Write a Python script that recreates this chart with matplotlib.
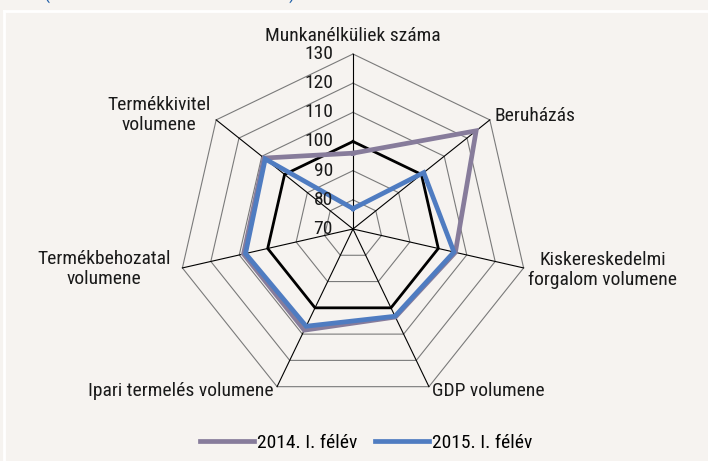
import numpy as np
import matplotlib
matplotlib.use("Agg")
import matplotlib.pyplot as plt
import logging
logging.getLogger("matplotlib.font_manager").setLevel(logging.ERROR)

plt.rcParams['font.family'] = ['Liberation Sans Narrow', 'Roboto Condensed',
                               'Archivo Narrow', 'DejaVu Sans']

categories = ["Munkanélküliek száma", "Beruházás", "Kiskereskedelmi\nforgalom volumene",
              "GDP volumene", "Ipari termelés volumene", "Termékbehozatal\nvolumene",
              "Termékkivitel\nvolumene"]
s2014 = [96, 124, 106, 103.5, 108.5, 108.5, 109]
s2015 = [77, 101, 105.5, 103.2, 107, 107.8, 108.5]
ref100 = [100] * 7
ticks = [70, 80, 90, 100, 110, 120, 130]
rmin, rmax = 70, 130

bg = "#F6F3F0"
W, H = 708, 461
cx, cy = 353, 229          # centre in pixels
scale = 175 / (rmax - rmin)  # px per unit

fig = plt.figure(figsize=(W / 100, H / 100), dpi=100, facecolor=bg)
aw, ah = 620, 420
ax = fig.add_axes([(cx - aw / 2) / W, (H - cy - ah / 2) / H, aw / W, ah / H])
ax.set_xlim(-aw / 2 / scale, aw / 2 / scale)
ax.set_ylim(-ah / 2 / scale, ah / 2 / scale)
ax.axis("off")
ax.set_facecolor(bg)

n = len(categories)
ang = np.arange(n) * 2 * np.pi / n


def xy(vals):
    r = np.asarray(vals, float) - rmin
    x = r * np.sin(ang)
    y = r * np.cos(ang)
    return np.append(x, x[0]), np.append(y, y[0])


# polygon grid
for t in ticks[1:]:
    gx, gy = xy([t] * n)
    ax.plot(gx, gy, color="#7a7a7a", lw=0.8, zorder=1)
# spokes
for a in ang:
    ax.plot([0, (rmax - rmin) * np.sin(a)], [0, (rmax - rmin) * np.cos(a)],
            color="black", lw=0.8, zorder=2)

x, y = xy(ref100)
ax.plot(x, y, color="black", lw=2, zorder=3)
x, y = xy(s2014)
l1, = ax.plot(x, y, color="#877C9B", lw=3.4, zorder=4, solid_joinstyle="miter",
              label="2014. I. félév")
x, y = xy(s2015)
l2, = ax.plot(x, y, color="#4F7CC1", lw=3.4, zorder=5, solid_joinstyle="miter",
              label="2015. I. félév")

fs = 14
# tick labels
for t in ticks:
    ax.text(-20 / scale, t - rmin, str(t), ha="right", va="center", fontsize=fs,
            color="#1a1a1a", zorder=6)


def P(px, py):
    return (px - cx) / scale, (cy - py) / scale


label_pos = [((353, 36), "center"), ((494, 116), "left"), ((603, 270), "center"),
             ((432, 391), "left"), ((274, 391), "right"), ((104, 269), "center"),
             ((159, 115), "center")]
for lab, ((px, py), ha) in zip(categories, label_pos):
    ax.text(*P(px, py), lab, ha=ha, va="center", fontsize=fs, color="#1a1a1a",
            multialignment="center", linespacing=1.2)

fig.legend(handles=[l1, l2], loc="center", bbox_to_anchor=(366 / W, 1 - 443 / H),
           ncol=2, frameon=False, fontsize=fs, handlelength=2.8, handletextpad=0.15,
           columnspacing=0.9)

# panel border remnants
fig.add_artist(plt.Line2D([4 / W, 4 / W], [0, 1 - 11 / H], color="white", lw=2,
                          transform=fig.transFigure))
fig.add_artist(plt.Line2D([4 / W, 1], [1 - 11 / H, 1 - 11 / H], color="white", lw=2,
                          transform=fig.transFigure))
# cut off title remnants
fig.text(47 / W, 1 + 6 / H, "(", color="#1F5FA8", fontsize=fs, ha="center", va="center")
fig.text(292 / W, 1 + 6 / H, ")", color="#1F5FA8", fontsize=fs, ha="center", va="center")

fig.savefig("out.png", dpi=100, facecolor=bg)
